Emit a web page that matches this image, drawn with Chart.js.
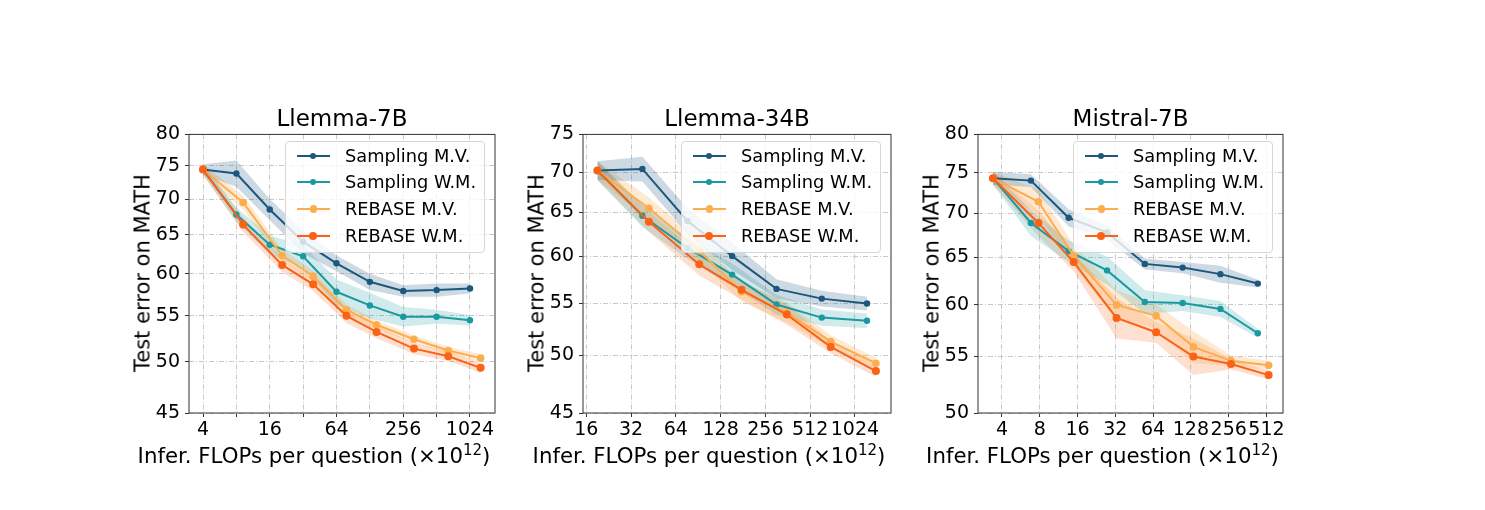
<!DOCTYPE html>
<html>
<head>
<meta charset="utf-8">
<title>REBASE vs sampling: test error vs inference FLOPs</title>
<script src="https://cdn.jsdelivr.net/npm/chart.js@4.4.1/dist/chart.umd.min.js"></script>
<style>
  body { margin: 0; background: #fff; font-family: "DejaVu Sans", sans-serif; color: #000; }
  #fig { position: relative; width: 1485px; height: 510px; overflow: hidden; }
  .box { position: absolute; }
  .title { position: absolute; font-size: 23px; line-height: 23px; white-space: nowrap; transform: translateX(-50%); }
  .xlab { position: absolute; font-size: 21.3px; line-height: 21px; white-space: nowrap; transform: translateX(-50%); }
  .xlab .sup { font-size: 15px; position: relative; top: -8px; }
  .ylab { position: absolute; font-size: 21px; line-height: 21px; white-space: nowrap; transform: translate(-50%, -50%) rotate(-90deg); }
  .legend { position: absolute; width: 198px; height: 110px; border: 1px solid #d6d6d6; border-radius: 4px; background: rgba(255, 255, 255, 0.8); }
  .lline { position: absolute; left: 10.7px; width: 33.3px; height: 2px; }
  .ldot { position: absolute; border-radius: 50%; }
  .ltext { position: absolute; left: 59px; height: 20px; line-height: 20px; font-size: 17.8px; white-space: nowrap; }
</style>
</head>
<body>
<div id="fig"></div>
<script>
// --- series shared by all three panels ---
const seriesNames = ['Sampling M.V.', 'Sampling W.M.', 'REBASE M.V.', 'REBASE W.M.'];
const seriesColors = ['#1b587e', '#1a9aa0', '#fdad4e', '#fb6216'];
const bandColors = ['rgba(27,88,126,0.22)', 'rgba(26,154,160,0.2)', 'rgba(253,173,78,0.25)', 'rgba(251,98,22,0.2)'];
const pointSizes = [3.2, 3.2, 3.8, 4];

// --- Llemma-7B ---
const l7SampX = [4, 8, 16, 32, 64, 128, 256, 512, 1024];
const l7RebX = [4, 9.2, 20.7, 39.4, 78.8, 147, 320, 652, 1278];
const l7SampMV = [74.4, 73.8, 68.5, 64.1, 61.3, 59.0, 57.9, 58.0, 58.2];
const l7SampWM = [74.4, 67.8, 63.7, 62.2, 57.8, 56.2, 54.9, 54.9, 54.5];
const l7RebMV = [74.4, 69.5, 62.3, 59.7, 55.7, 54.0, 52.4, 51.2, 50.4];
const l7RebWM = [74.4, 66.4, 61.1, 58.7, 55.0, 53.2, 51.4, 50.6, 49.4];
const l7BandSMV = [0.8, 2.0, 1.5, 1.5, 1.0, 1.0, 0.7, 0.8, 0.6];
const l7BandSWM = [0.8, 1.0, 1.2, 1.5, 1.5, 1.5, 1.1, 0.8, 0.6];
const l7BandRMV = [0.8, 1.0, 0.8, 0.7, 0.6, 0.5, 0.4, 0.4, 0.4];
const l7BandRWM = [0.8, 1.0, 0.9, 0.8, 0.8, 0.7, 0.6, 0.5, 0.5];
const l7XTicks = [4, 8, 16, 32, 64, 128, 256, 512, 1024];
const l7XLabels = [4, 16, 64, 256, 1024];
const l7YTicks = [45, 50, 55, 60, 65, 70, 75, 80];

// --- Llemma-34B ---
const l34SampX = [19.0, 38.1, 76.6, 153, 304, 613, 1234];
const l34RebX = [19.0, 42.2, 91.9, 177, 357, 704, 1418];
const l34SampMV = [70.2, 70.4, 64.0, 60.0, 56.5, 55.5, 55.0];
const l34SampWM = [70.2, 64.6, 60.9, 58.0, 54.9, 53.6, 53.3];
const l34RebMV = [70.2, 65.5, 60.6, 56.2, 54.1, 51.3, 49.3];
const l34RebWM = [70.2, 63.9, 59.1, 56.4, 53.9, 50.8, 48.6];
const l34BandSMV = [1.2, 1.6, 1.5, 1.5, 1.0, 0.8, 0.7];
const l34BandSWM = [1.2, 1.3, 1.2, 1.2, 1.0, 0.8, 0.7];
const l34BandRMV = [1.2, 1.3, 1.2, 1.0, 1.0, 0.6, 0.5];
const l34BandRWM = [1.2, 1.2, 1.2, 1.0, 1.0, 0.6, 0.5];
const l34XTicks = [16, 32, 64, 128, 256, 512, 1024];
const l34XLabels = [16, 32, 64, 128, 256, 512, 1024];
const l34YTicks = [45, 50, 55, 60, 65, 70, 75];

// --- Mistral-7B ---
const m7SampX = [3.39, 6.8, 13.6, 27.5, 55, 110, 220, 437];
const m7RebX = [3.39, 7.8, 14.9, 32.7, 67.6, 134, 267, 533];
const m7SampMV = [74.3, 74.0, 69.5, 67.8, 64.3, 63.9, 63.2, 62.2];
const m7SampWM = [74.3, 68.9, 65.7, 63.6, 60.3, 60.2, 59.6, 57.2];
const m7RebMV = [74.3, 71.4, 65.2, 60.0, 58.9, 55.9, 54.6, 54.2];
const m7RebWM = [74.3, 68.9, 64.5, 58.7, 57.3, 55.0, 54.3, 53.3];
const m7BandSMV = [0.8, 0.8, 1.0, 0.8, 0.6, 0.6, 0.9, 0.4];
const m7BandSWM = [0.8, 1.5, 1.2, 1.5, 1.2, 0.8, 0.8, 0.4];
const m7BandRMV = [0.8, 1.5, 1.2, 1.5, 1.2, 1.5, 0.5, 0.4];
const m7BandRWM = [0.8, 1.5, 1.0, 2.0, 1.0, 1.7, 0.5, 0.4];
const m7XTicks = [4, 8, 16, 32, 64, 128, 256, 512];
const m7XLabels = [4, 8, 16, 32, 64, 128, 256, 512];
const m7YTicks = [50, 55, 60, 65, 70, 75, 80];

const panels = [
  { title: 'Llemma-7B', left: 189, right: 495, xMin: 2.99, xMax: 1722, yMin: 45, yMax: 80,
    sampX: l7SampX, rebX: l7RebX, values: [l7SampMV, l7SampWM, l7RebMV, l7RebWM],
    bands: [l7BandSMV, l7BandSWM, l7BandRMV, l7BandRWM], xTicks: l7XTicks, xLabels: l7XLabels, yTicks: l7YTicks },
  { title: 'Llemma-34B', left: 583, right: 891, xMin: 15.2, xMax: 1790, yMin: 45, yMax: 75,
    sampX: l34SampX, rebX: l34RebX, values: [l34SampMV, l34SampWM, l34RebMV, l34RebWM],
    bands: [l34BandSMV, l34BandSWM, l34BandRMV, l34BandRWM], xTicks: l34XTicks, xLabels: l34XLabels, yTicks: l34YTicks },
  { title: 'Mistral-7B', left: 978, right: 1283, xMin: 2.576, xMax: 693.6, yMin: 50, yMax: 80,
    sampX: m7SampX, rebX: m7RebX, values: [m7SampMV, m7SampWM, m7RebMV, m7RebWM],
    bands: [m7BandSMV, m7BandSWM, m7BandRMV, m7BandRWM], xTicks: m7XTicks, xLabels: m7XLabels, yTicks: m7YTicks }
];

Chart.defaults.font.family = '"DejaVu Sans", sans-serif';
Chart.defaults.color = '#000';

const plotTop = 132, plotBottom = 413;
const padTop = 14, padRight = 20, yAxisW = 70, xAxisH = 60;

// matplotlib draws a full box round each axes
const framePlugin = {
  id: 'frame',
  afterDraw(chart) {
    const { ctx, chartArea: a } = chart;
    ctx.save();
    ctx.strokeStyle = '#333';
    ctx.lineWidth = 1;
    ctx.strokeRect(a.left, a.top, a.right - a.left, a.bottom - a.top);
    ctx.restore();
  }
};

const fig = document.getElementById('fig');

function addText(cls, text, left, top) {
  const el = document.createElement('div');
  el.className = cls;
  el.textContent = text;
  el.style.left = left + 'px';
  el.style.top = top + 'px';
  fig.appendChild(el);
  return el;
}

function addXLabel(left, top) {
  const el = addText('xlab', 'Infer. FLOPs per question (×10', left, top);
  const sup = document.createElement('span');
  sup.className = 'sup';
  sup.textContent = '12';
  el.appendChild(sup);
  el.appendChild(document.createTextNode(')'));
}

function makeLegend(left) {
  const lg = document.createElement('div');
  lg.className = 'legend';
  lg.style.left = left + 'px';
  lg.style.top = '141px';
  seriesNames.forEach((name, s) => {
    const cy = 13.7 + s * 26.6;
    const line = document.createElement('div');
    line.className = 'lline';
    line.style.top = (cy - 1) + 'px';
    line.style.background = seriesColors[s];
    lg.appendChild(line);
    const r = pointSizes[s];
    const dot = document.createElement('div');
    dot.className = 'ldot';
    dot.style.width = dot.style.height = (2 * r) + 'px';
    dot.style.left = (27.3 - r) + 'px';
    dot.style.top = (cy - r) + 'px';
    dot.style.background = seriesColors[s];
    lg.appendChild(dot);
    const txt = document.createElement('div');
    txt.className = 'ltext';
    txt.style.top = (cy - 10) + 'px';
    txt.textContent = name;
    lg.appendChild(txt);
  });
  fig.appendChild(lg);
}

function makePanel(p) {
  const wrap = document.createElement('div');
  wrap.className = 'box';
  wrap.style.left = (p.left - yAxisW) + 'px';
  wrap.style.top = (plotTop - padTop) + 'px';
  wrap.style.width = (yAxisW + p.right - p.left + padRight) + 'px';
  wrap.style.height = (padTop + plotBottom - plotTop + xAxisH) + 'px';
  const canvas = document.createElement('canvas');
  wrap.appendChild(canvas);
  fig.appendChild(wrap);

  const datasets = [];
  // shaded bands first, so they sit under every line
  p.values.forEach((vals, s) => {
    const xs = s < 2 ? p.sampX : p.rebX;
    const h = p.bands[s];
    datasets.push({
      data: xs.map((x, k) => ({ x: x, y: vals[k] + h[k] })),
      borderColor: 'rgba(0,0,0,0)', borderWidth: 0, pointRadius: 0,
      backgroundColor: bandColors[s], fill: '+1', order: 10
    });
    datasets.push({
      data: xs.map((x, k) => ({ x: x, y: vals[k] - h[k] })),
      borderColor: 'rgba(0,0,0,0)', borderWidth: 0, pointRadius: 0,
      fill: false, order: 10
    });
  });
  p.values.forEach((vals, s) => {
    const xs = s < 2 ? p.sampX : p.rebX;
    datasets.push({
      label: seriesNames[s],
      data: xs.map((x, k) => ({ x: x, y: vals[k] })),
      borderColor: seriesColors[s], backgroundColor: seriesColors[s],
      borderWidth: 2, pointRadius: pointSizes[s], pointBorderWidth: 0,
      tension: 0, fill: false, order: 4 - s
    });
  });

  const gridOpts = { color: '#c8c8c8', lineWidth: 1, tickColor: '#333', tickLength: 4, drawTicks: true };

  new Chart(canvas.getContext('2d'), {
    type: 'line',
    data: { datasets: datasets },
    options: {
      responsive: true,
      maintainAspectRatio: false,
      animation: false,
      layout: { padding: { top: padTop, right: padRight, left: 0, bottom: 0 } },
      plugins: { legend: { display: false }, tooltip: { enabled: false }, title: { display: false } },
      scales: {
        x: {
          type: 'logarithmic', min: p.xMin, max: p.xMax,
          afterBuildTicks: sc => { sc.ticks = p.xTicks.map(v => ({ value: v })); },
          afterFit: sc => { sc.height = xAxisH; },
          ticks: {
            autoSkip: false, maxRotation: 0, minRotation: 0, padding: 2,
            font: { size: 19 }, color: '#000',
            callback: v => p.xLabels.includes(v) ? String(v) : ''
          },
          grid: gridOpts,
          border: { display: false, dash: [5, 2, 1, 2] }
        },
        y: {
          type: 'logarithmic', min: p.yMin, max: p.yMax,
          afterBuildTicks: sc => { sc.ticks = p.yTicks.map(v => ({ value: v })); },
          afterFit: sc => { sc.width = yAxisW; },
          ticks: { padding: 5, font: { size: 19 }, color: '#000', callback: v => String(v) },
          grid: gridOpts,
          border: { display: false, dash: [5, 2, 1, 2] }
        }
      }
    },
    plugins: [framePlugin]
  });

  const mid = (p.left + p.right) / 2;
  addText('title', p.title, mid, 106.5);
  addXLabel(mid - 28, 445);
  addText('ylab', 'Test error on MATH', p.left - 46, (plotTop + plotBottom) / 2);
  makeLegend(p.right - 210);
}

panels.forEach(makePanel);
</script>
</body>
</html>
